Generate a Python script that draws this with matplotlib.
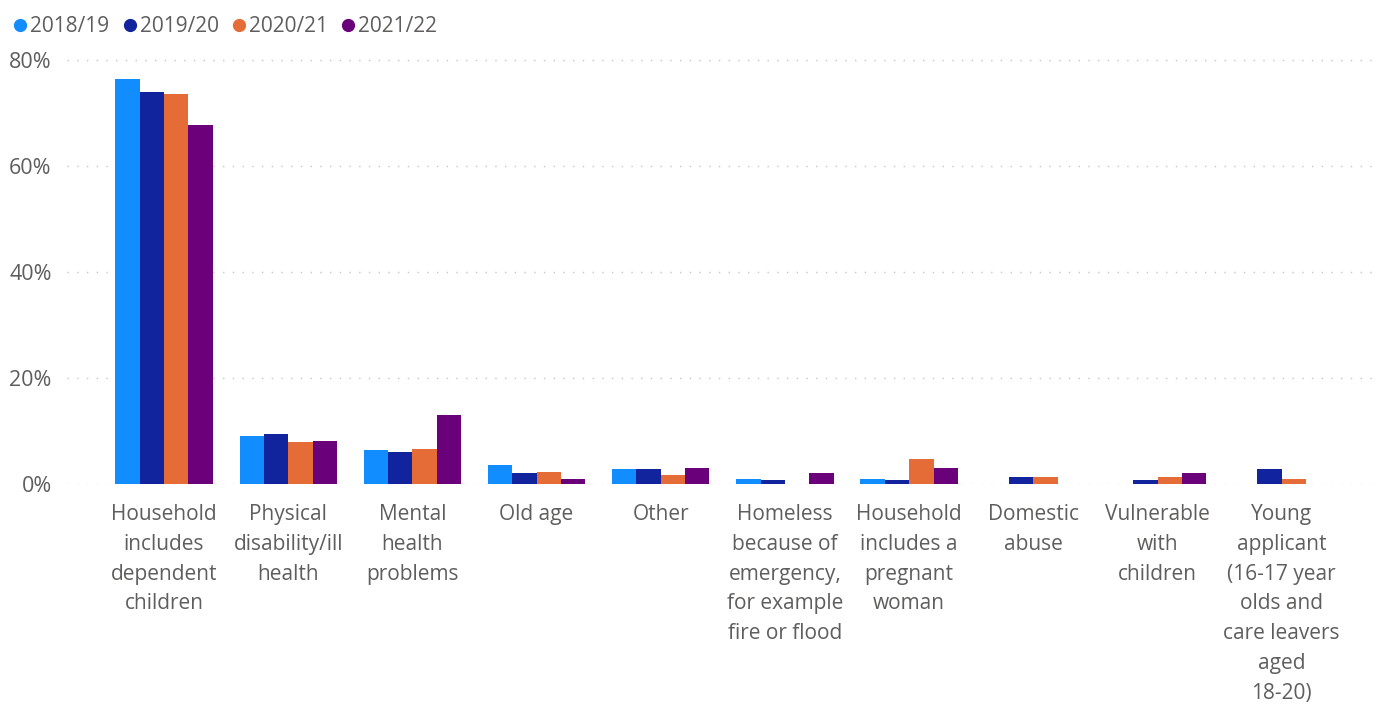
import matplotlib
matplotlib.use("Agg")
import matplotlib.pyplot as plt
import matplotlib.transforms as mtransforms
from matplotlib.lines import Line2D
import numpy as np

plt.rcParams["font.family"] = ["Open Sans", "DejaVu Sans"]

categories = [
    "Household\nincludes\ndependent\nchildren",
    "Physical\ndisability/ill\nhealth",
    "Mental\nhealth\nproblems",
    "Old age",
    "Other",
    "Homeless\nbecause of\nemergency,\nfor example\nfire or flood",
    "Household\nincludes a\npregnant\nwoman",
    "Domestic\nabuse",
    "Vulnerable\nwith\nchildren",
    "Young\napplicant\n(16-17 year\nolds and\ncare leavers\naged\n18-20)",
]
series_names = ["2018/19", "2019/20", "2020/21", "2021/22"]
values_2018_19 = [76.4, 9.1, 6.4, 3.6, 2.8, 0.9, 0.9, 0.0, 0.0, 0.0]
values_2019_20 = [74.0, 9.4, 6.0, 2.0, 2.8, 0.7, 0.7, 1.4, 0.7, 2.8]
values_2020_21 = [73.5, 7.9, 6.6, 2.3, 1.7, 0.0, 4.8, 1.4, 1.4, 0.9]
values_2021_22 = [67.7, 8.2, 13.1, 1.0, 3.0, 2.1, 3.0, 0.0, 2.1, 0.0]
y_ticks = [0, 20, 40, 60, 80]

series_values = [values_2018_19, values_2019_20, values_2020_21, values_2021_22]
colors = ["#118DFF", "#12239E", "#E66C37", "#6B007B"]
text_color = "#605E5C"

W, H = 1390, 704
fig = plt.figure(figsize=(W / 100, H / 100), dpi=100)
# axes: left 67px, right 1377px, zero line at 484px, 80% at 60px
ymax = 82
px_per_unit = (484 - 60) / 80
top_px = 484 - ymax * px_per_unit
ax = fig.add_axes([67 / W, 1 - 484 / H, (1377 - 67) / W, (484 - top_px) / H])

n = len(categories)
x = np.arange(n)
bw = 0.196
for i, (name, vals, col) in enumerate(zip(series_names, series_values, colors)):
    ax.bar(x + (i - 1.5) * bw, vals, width=bw, color=col, label=name,
           linewidth=0, zorder=3)

ax.set_xlim(-0.781, 9.767)
ax.set_ylim(0, ymax)
for s in ax.spines.values():
    s.set_visible(False)
ax.set_xticks([])
ax.set_yticks(y_ticks)
ax.set_yticklabels([f"{t}%" for t in y_ticks])
ax.tick_params(axis="y", length=0, pad=11, labelsize=15.5, labelcolor=text_color)
for t in y_ticks:
    ax.axhline(t, color="#C8C6C4", linewidth=1.0, linestyle=(0, (1, 6)), zorder=1)

# category labels under the bars
trans = mtransforms.blended_transform_factory(ax.transData, fig.transFigure)
for xi, lab in zip(x, categories):
    fig.text(xi, 1 - 504 / H, lab, transform=trans, ha="center", va="top",
             fontsize=15, color=text_color, linespacing=1.55)

# legend along the top
handles = [Line2D([0], [0], marker="o", color="none", markerfacecolor=c,
                  markeredgecolor=c, markersize=8.5) for c in colors]
fig.legend(handles, series_names, loc="upper left", bbox_to_anchor=(0.0, 0.998),
           ncol=4, frameon=False, fontsize=15, labelcolor=text_color,
           handlelength=0.55, handletextpad=0.2, columnspacing=0.7,
           borderaxespad=0.3)

fig.savefig("out.png", dpi=100)
